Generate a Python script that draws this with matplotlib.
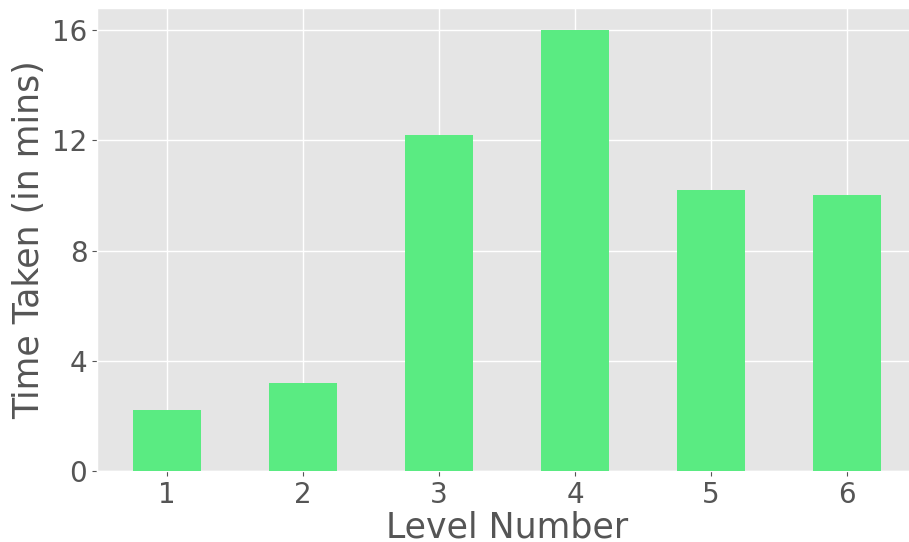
import matplotlib
matplotlib.use("Agg")
import matplotlib.pyplot as plt
import numpy as np

plt.style.use("ggplot")

levels = ["1", "2", "3", "4", "5", "6"]
times = [2.2, 3.2, 12.2, 16.0, 10.2, 10.0]
yticks = [0, 4, 8, 12, 16]

fig = plt.figure(figsize=(9.09, 5.42), dpi=100)
ax = fig.add_axes([97/909, 71/542, 820/909, 463/542])
x = np.arange(len(levels))
ax.bar(x, times, width=0.5, color="#5AEB82", zorder=3)
ax.set_xticks(x)
ax.set_xticklabels(levels)
ax.set_xlim(-0.515, 5.515)
ax.set_ylim(0, 16.8)
ax.set_yticks(yticks)
ax.tick_params(axis="both", labelsize=20, colors="#555555", labelcolor="#555555")
ax.set_xlabel("Level Number", fontsize=25, color="#555555", labelpad=1)
ax.set_ylabel("Time Taken (in mins)", fontsize=25, color="#555555")
ax.grid(True, color="white", linewidth=1.0, zorder=0)
ax.set_axisbelow(True)
fig.savefig("out.png", dpi=100)
